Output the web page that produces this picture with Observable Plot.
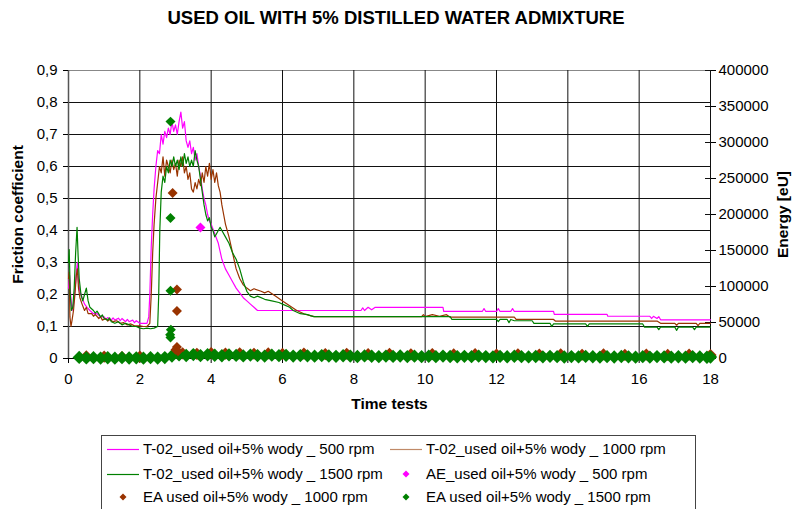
<!DOCTYPE html>
<html><head><meta charset="utf-8">
<script src="https://cdn.jsdelivr.net/npm/d3@7"></script>
<script src="https://cdn.jsdelivr.net/npm/@observablehq/plot@0.6"></script>
<style>
body{margin:0;background:#fff;font-family:"Liberation Sans",Arial,sans-serif;}
#wrap{position:relative;width:792px;height:509px;overflow:hidden;background:#fff;}
#title{position:absolute;left:0;top:0;width:792px;text-align:center;font-weight:bold;font-size:18.5px;line-height:36px;}
#chart{position:absolute;left:0;top:40px;}
#legend{position:absolute;left:101px;top:435px;width:593px;height:90px;border:1px solid #444;}
.item{position:absolute;font-size:15px;white-space:nowrap;line-height:18px;}
.item svg{position:absolute;top:0;}
</style></head>
<body>
<div id="wrap">
  <div id="title">USED OIL WITH 5% DISTILLED WATER ADMIXTURE</div>
  <div id="chart"></div>
  <div id="legend"></div>
</div>
<script>
// ---- tick values ----
const timeTicks = [0, 2, 4, 6, 8, 10, 12, 14, 16, 18];
const frictionTicks = [0, 0.1, 0.2, 0.3, 0.4, 0.5, 0.6, 0.7, 0.8, 0.9];
const energyTicks = [0, 50000, 100000, 150000, 200000, 250000, 300000, 350000, 400000];

// ---- friction coefficient series [time, friction] ----
const m500 = [[0,0.22],[0.03,0.26],[0.06,0.2],[0.1,0.15],[0.14,0.17],[0.18,0.21],[0.22,0.27],[0.25,0.3],[0.28,0.24],[0.32,0.21],[0.38,0.19],[0.45,0.17],[0.52,0.16],[0.6,0.15],[0.7,0.14],[0.8,0.14],[0.9,0.13],[1.0,0.13],[1.05,0.122],[1.1,0.128],[1.2,0.12],[1.25,0.127],[1.3,0.12],[1.4,0.126],[1.45,0.118],[1.5,0.125],[1.6,0.115],[1.65,0.122],[1.7,0.115],[1.8,0.12],[1.85,0.112],[1.9,0.118],[2.0,0.11],[2.1,0.11],[2.2,0.11],[2.25,0.13],
[2.28,0.2],[2.32,0.35],[2.36,0.45],[2.4,0.53],[2.45,0.6],[2.5,0.65],[2.55,0.64],[2.6,0.7],[2.65,0.67],[2.7,0.71],[2.75,0.69],[2.8,0.72],[2.85,0.7],[2.9,0.74],[2.95,0.71],[3.0,0.73],[3.05,0.7],[3.1,0.74],[3.15,0.77],[3.2,0.72],[3.25,0.74],[3.3,0.68],[3.35,0.66],[3.4,0.68],[3.45,0.64],[3.5,0.66],[3.55,0.62],[3.6,0.64],[3.65,0.6],[3.7,0.57],[3.75,0.53],[3.8,0.5],[3.85,0.48],[3.9,0.45],[3.95,0.43],[4.0,0.42],[4.1,0.39],[4.2,0.36],[4.3,0.31],[4.4,0.28],[4.5,0.26],[4.6,0.24],[4.7,0.22],[4.8,0.205],[4.9,0.19],[5.0,0.18],[5.1,0.17],[5.2,0.16],[5.3,0.15],
[8.2,0.15],[8.25,0.158],[8.3,0.15],[8.4,0.16],[8.5,0.152],[8.6,0.16],[8.7,0.16],[10.5,0.16],[10.52,0.147],[11.6,0.147],[11.65,0.156],[11.7,0.147],[12.0,0.147],[12.05,0.156],[12.1,0.147],[12.4,0.147],[12.45,0.156],[12.5,0.147],[13.6,0.147],[13.62,0.138],[15.1,0.138],[15.12,0.132],[16.3,0.132],[16.35,0.125],[16.4,0.132],[16.5,0.125],[16.55,0.131],[16.6,0.121],[18,0.121]];

const b1000 = [[0,0.25],[0.02,0.27],[0.04,0.13],[0.07,0.1],[0.1,0.12],[0.14,0.15],[0.18,0.2],[0.22,0.26],[0.25,0.28],[0.28,0.22],[0.32,0.19],[0.38,0.17],[0.45,0.15],[0.5,0.16],[0.55,0.14],[0.65,0.14],[0.7,0.132],[0.75,0.138],[0.85,0.125],[0.9,0.13],[0.95,0.12],[1.05,0.125],[1.1,0.117],[1.15,0.122],[1.25,0.115],[1.35,0.118],[1.45,0.11],[1.55,0.112],[1.65,0.105],[1.75,0.108],[1.85,0.102],[2.0,0.102],[2.1,0.1],[2.2,0.1],[2.28,0.11],
[2.32,0.2],[2.36,0.33],[2.4,0.42],[2.45,0.5],[2.5,0.55],[2.55,0.6],[2.6,0.58],[2.65,0.63],[2.7,0.57],[2.75,0.62],[2.8,0.6],[2.85,0.58],[2.9,0.62],[2.95,0.59],[3.0,0.61],[3.05,0.57],[3.1,0.62],[3.15,0.6],[3.2,0.63],[3.25,0.58],[3.3,0.6],[3.35,0.56],[3.4,0.58],[3.45,0.53],[3.5,0.52],[3.55,0.55],[3.6,0.53],[3.65,0.56],[3.7,0.54],[3.75,0.58],[3.8,0.55],[3.85,0.6],[3.9,0.57],[3.95,0.61],[4.0,0.56],[4.05,0.59],[4.1,0.55],[4.15,0.58],[4.2,0.54],[4.25,0.52],[4.3,0.48],[4.35,0.45],[4.4,0.42],[4.5,0.38],[4.6,0.33],[4.7,0.28],[4.8,0.25],[4.9,0.23],[5.0,0.22],[5.1,0.212],[5.2,0.218],[5.4,0.21],[5.5,0.205],[5.6,0.21],[5.8,0.195],[6.0,0.18],[6.2,0.165],[6.4,0.15],[6.6,0.14],[6.8,0.133],[6.9,0.131],
[9.9,0.131],[9.95,0.137],[10.0,0.131],[10.2,0.137],[10.4,0.132],[10.6,0.137],[10.7,0.129],[12.5,0.129],[12.55,0.122],[13.6,0.122],[13.65,0.117],[16.5,0.117],[16.6,0.11],[17.0,0.11],[17.05,0.104],[17.1,0.11],[17.6,0.11],[17.65,0.103],[17.7,0.11],[18,0.11]];

const g1500 = [[0,0.3],[0.02,0.34],[0.05,0.2],[0.08,0.15],[0.12,0.16],[0.16,0.22],[0.2,0.33],[0.24,0.41],[0.27,0.32],[0.3,0.25],[0.35,0.2],[0.4,0.18],[0.45,0.2],[0.5,0.22],[0.55,0.18],[0.6,0.16],[0.7,0.15],[0.75,0.142],[0.8,0.148],[0.9,0.13],[0.95,0.136],[1.0,0.125],[1.1,0.12],[1.15,0.127],[1.2,0.115],[1.3,0.11],[1.4,0.115],[1.5,0.105],[1.6,0.11],[1.7,0.105],[1.8,0.1],[1.9,0.1],[2.0,0.095],[2.1,0.093],[2.2,0.095],[2.3,0.093],[2.4,0.095],[2.5,0.1],
[2.53,0.2],[2.56,0.4],[2.6,0.52],[2.65,0.57],[2.7,0.55],[2.75,0.6],[2.8,0.58],[2.85,0.62],[2.9,0.6],[2.95,0.63],[3.0,0.6],[3.05,0.62],[3.1,0.59],[3.15,0.63],[3.2,0.6],[3.25,0.64],[3.3,0.61],[3.35,0.63],[3.4,0.6],[3.45,0.62],[3.5,0.6],[3.55,0.65],[3.6,0.62],[3.65,0.6],[3.7,0.56],[3.75,0.52],[3.8,0.48],[3.85,0.45],[3.9,0.43],[3.95,0.44],[4.0,0.41],[4.05,0.4],[4.1,0.38],[4.15,0.39],[4.2,0.4],[4.25,0.41],[4.3,0.4],[4.4,0.38],[4.5,0.36],[4.6,0.33],[4.7,0.31],[4.8,0.28],[4.9,0.24],[5.0,0.21],[5.1,0.195],[5.2,0.19],[5.3,0.195],[5.5,0.185],[5.7,0.18],[5.9,0.175],[6.0,0.17],[6.2,0.16],[6.3,0.15],[6.5,0.14],[6.7,0.137],[6.87,0.131],
[10.7,0.131],[10.75,0.122],[12.0,0.122],[12.05,0.115],[12.1,0.122],[12.3,0.122],[12.35,0.112],[12.4,0.122],[12.5,0.118],[13.0,0.118],[13.05,0.11],[13.5,0.11],[13.55,0.1],[13.6,0.108],[14.5,0.108],[14.55,0.1],[14.6,0.108],[16.1,0.108],[16.15,0.098],[16.5,0.098],[16.55,0.09],[16.6,0.098],[17.0,0.098],[17.05,0.088],[17.1,0.098],[17.5,0.098],[17.55,0.09],[17.6,0.098],[18,0.098]];

// ---- energy scatter [time, energy eU] ----
const ae500 = [[3.7,182000]];
const ea1000Peak = [[2.92,230000],[3.04,96000],[3.04,66000],[3.04,16000],[3.0,12000],[3.07,10000]];
const ea1000Base = [[0.5,3000],[1.0,2500],[1.5,2000],[2.0,2500],[3.2,7000],[3.6,6500],[4.0,7500],[4.4,6800],[4.8,7200],[5.2,6600],[5.6,7000],[6.0,6400],[6.6,6800],[7.2,6200],[7.8,6600],[8.4,6000],[9.0,6400],[9.6,5800],[10.2,6200],[10.8,5600],[11.4,6000],[12.0,5500],[12.6,5900],[13.2,5300],[13.8,5700],[14.4,5200],[15.0,5600],[15.6,5000],[16.2,5400],[16.8,4900],[17.4,5300],[18.0,4800]];
const ea1500Peak = [[2.86,329000],[2.86,195000],[2.86,94000],[2.87,40000],[2.85,33000],[2.86,29000]];
const ea1500Base = [[0.3,1500],[0.5,800],[0.7,1200],[0.9,600],[1.1,1000],[1.3,500],[1.5,1200],[1.7,700],[1.9,900],[2.1,400],[2.3,1100],[2.5,600],[2.7,1300],[2.9,3500],[3.1,5000],[3.3,4200],[3.5,5500],[3.7,4000],[3.9,5200],[4.1,4500],[4.3,3800],[4.5,5000],[4.7,4300],[4.9,3600],[5.1,4800],[5.3,4000],[5.5,3400],[5.7,4600],[5.9,3900],[6.1,4400],[6.3,3300],[6.5,4100],[6.7,3700],[6.9,3200],[7.1,4000],[7.3,3500],[7.5,3000],[7.7,3800],[7.9,3300],[8.1,2800],[8.3,3600],[8.5,3100],[8.7,2600],[8.9,3400],[9.1,2900],[9.3,3500],[9.5,2700],[9.7,3200],[9.9,2500],[10.1,3100],[10.3,2600],[10.5,3300],[10.7,2800],[10.9,2400],[11.1,3000],[11.3,2500],[11.5,3200],[11.7,2700],[11.9,2300],[12.1,2900],[12.3,2400],[12.5,3100],[12.7,2600],[12.9,2200],[13.1,2800],[13.3,2300],[13.5,3000],[13.7,2500],[13.9,2100],[14.1,2700],[14.3,2200],[14.5,2900],[14.7,2400],[14.9,2000],[15.1,2600],[15.3,2100],[15.5,2800],[15.7,2300],[15.9,1900],[16.1,2500],[16.3,2000],[16.5,2700],[16.7,2200],[16.9,1800],[17.1,2400],[17.3,1900],[17.5,2600],[17.7,2100],[17.9,1700],[18.0,2000]];

// ---- legend ----
const legendLabels = ["T-02_used oil+5% wody _ 500 rpm","T-02_used oil+5% wody _ 1000 rpm","T-02_used oil+5% wody _ 1500 rpm","AE_used oil+5% wody _ 500 rpm","EA used oil+5% wody _ 1000 rpm","EA used oil+5% wody _ 1500 rpm"];
const legendKinds = ["line","line","line","dot","dot","dot"];
const legendColors = ["#ff00ff","#c08a68","#008000","#ff00ff","#993300","#008000"];

const C500 = "#ff00ff", C1000 = "#993300", C1500 = "#008000";
const k = 0.9 / 400000; // energy -> friction-equivalent on shared vertical scale
const fmtF = d => d === 0 ? "0" : d3.format(".1f")(d).replace(".", ",");
const ex = d => d[0], ey = d => d[1] * k;

const chart = Plot.plot({
  width: 792, height: 392,
  marginLeft: 68, marginRight: 82, marginTop: 30, marginBottom: 74,
  x: {domain: [0, 18]},
  y: {domain: [0, 0.9]},
  style: {fontFamily: "Liberation Sans, Arial, sans-serif", fontSize: "15px", color: "#000", background: "#fff"},
  marks: [
    Plot.ruleY(frictionTicks.slice(1, -1), {stroke: "#111", strokeWidth: 1}),
    Plot.ruleY([0.9], {stroke: "#888", strokeWidth: 1}),
    Plot.ruleX(timeTicks.slice(1, -1), {stroke: "#111", strokeWidth: 1}),
    Plot.ruleX([0], {stroke: "#555", strokeWidth: 1.5}),
    Plot.ruleX([18], {stroke: "#111", strokeWidth: 1}),
    Plot.ruleY(energyTicks.map(e => e * k), {x1: 17.86, x2: 18, stroke: "#111"}),
    Plot.axisX({ticks: timeTicks, tickSize: 5, tickPadding: 10, label: null}),
    Plot.axisY({ticks: frictionTicks, tickFormat: fmtF, tickSize: 5, tickPadding: 6, label: null}),
    Plot.axisY({anchor: "right", ticks: energyTicks.map(e => e * k), tickFormat: d => String(Math.round(d / k)), tickSize: 5, tickPadding: 3, label: null}),
    Plot.line(m500, {x: d => d[0], y: d => d[1], stroke: C500, strokeWidth: 1.2}),
    Plot.line(b1000, {x: d => d[0], y: d => d[1], stroke: C1000, strokeWidth: 1.2}),
    Plot.line(g1500, {x: d => d[0], y: d => d[1], stroke: C1500, strokeWidth: 1.2}),
    Plot.ruleY([0], {stroke: "#000", strokeWidth: 1}),
    Plot.dot(ea1000Base, {x: ex, y: ey, symbol: "diamond2", r: 5.5, fill: C1000, stroke: "none"}),
    Plot.dot(ea1500Base, {x: ex, y: ey, symbol: "diamond2", r: 6, fill: C1500, stroke: "none"}),
    Plot.dot(ae500, {x: ex, y: ey, symbol: "diamond2", r: 4.5, fill: C500, stroke: "none"}),
    Plot.dot(ea1000Peak, {x: ex, y: ey, symbol: "diamond2", r: 4.5, fill: C1000, stroke: "none"}),
    Plot.dot(ea1500Peak, {x: ex, y: ey, symbol: "diamond2", r: 4.5, fill: C1500, stroke: "none"}),
    Plot.text(["Friction coefficient"], {text: d => d, frameAnchor: "left", dx: -50, rotate: -90, textAnchor: "middle", fontWeight: "bold", fontSize: 15.5}),
    Plot.text(["Energy [eU]"], {text: d => d, frameAnchor: "right", dx: 73, rotate: -90, textAnchor: "middle", fontWeight: "bold", fontSize: 15.5}),
    Plot.text(["Time tests"], {text: d => d, frameAnchor: "bottom", dy: 50, textAnchor: "middle", fontWeight: "bold", fontSize: 15.5})
  ]
});
document.getElementById("chart").appendChild(chart);

// legend layout
const leg = document.getElementById("legend");
const colX = [4, 287];
const rowY = [4, 29, 52];
legendLabels.forEach((lab, i) => {
  const col = i % 2, row = Math.floor(i / 2);
  const it = document.createElement("div");
  it.className = "item";
  it.style.left = colX[col] + "px";
  it.style.top = rowY[row] + "px";
  const sw = legendKinds[i] === "line"
    ? `<svg width="34" height="18"><line x1="1" y1="9.5" x2="33" y2="9.5" stroke="${legendColors[i]}" stroke-width="1.2"/></svg>`
    : `<svg width="34" height="18"><path d="M17,5.5L20.5,9L17,12.5L13.5,9Z" fill="${legendColors[i]}"/></svg>`;
  it.innerHTML = sw + `<span style="position:absolute;left:37px;top:0">${lab}</span>`;
  leg.appendChild(it);
});
</script>
</body></html>
